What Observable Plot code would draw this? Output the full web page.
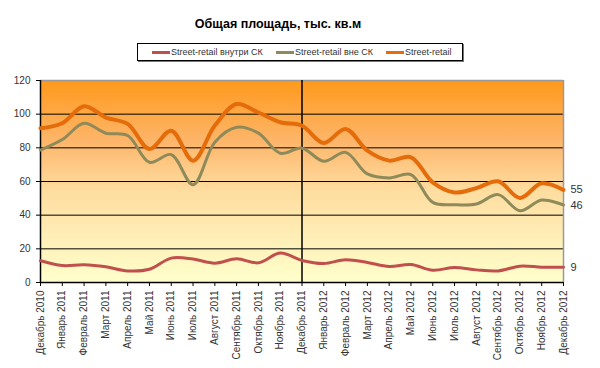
<!DOCTYPE html>
<html>
<head>
<meta charset="utf-8">
<script src="https://cdn.jsdelivr.net/npm/d3@7"></script>
<script src="https://cdn.jsdelivr.net/npm/@observablehq/plot@0.6"></script>
<style>
  html, body { margin: 0; padding: 0; background: #fff; }
  #wrap { position: relative; width: 600px; height: 368px; font-family: "Liberation Sans", Arial, sans-serif; }
  #title { position: absolute; left: 0; width: 556px; top: 17px; text-align: center; font-weight: bold; font-size: 12.5px; color: #000; }
  #legend { position: absolute; left: 137px; top: 43px; width: 324px; height: 16px; border: 1px solid #000; box-shadow: 1px 1px 0 #777; font-size: 9px; color: #333; }
  .sw { position: absolute; top: 7px; width: 18px; height: 3px; }
  .lt { position: absolute; top: 3px; white-space: nowrap; }
  #chart { position: absolute; left: 0; top: 0; }
</style>
</head>
<body>
<div id="wrap">
  <div id="chart"></div>
  <div id="title">Общая площадь, тыс. кв.м</div>
  <div id="legend"></div>
</div>
<script>
const months = ["Декабрь 2010","Январь 2011","Февраль 2011","Март 2011","Апрель 2011","Май 2011","Июнь 2011","Июль 2011","Август 2011","Сентябрь 2011","Октябрь 2011","Ноябрь 2011","Декабрь 2011","Январь 2012","Февраль 2012","Март 2012","Апрель 2012","Май 2012","Июнь 2012","Июль 2012","Август 2012","Сентябрь 2012","Октябрь 2012","Ноябрь 2012","Декабрь 2012"];
const seriesNames = ["Street-retail внутри СК", "Street-retail вне СК", "Street-retail"];
const seriesColors = ["#C0504D", "#8F8A5A", "#E46C0A"];
const insideSC = [12.9,10.1,10.5,9.3,6.9,7.9,14.5,13.9,11.5,14.1,11.7,17.5,13.1,11.3,13.5,11.9,9.5,10.7,7.3,8.9,7.5,6.9,9.7,9.1,9];
const outsideSC = [78.7,84.9,94.6,88.7,87.3,71.4,76,58.1,83.3,92.2,88.7,76.8,79.8,72,77.3,64.5,62.1,64.1,47.6,46.2,46.6,52.2,42.6,49,46];
const streetRetail = [91.6,94.6,104.7,98,94.2,79.3,90.2,72.4,93.2,106,101,95.2,93.1,82.9,91.2,78.3,72.4,74.4,59.5,53.5,56.1,60.1,50.2,58.9,55];
const yTicks = [0,20,40,60,80,100,120];
const endLabels = ["9","46","55"];

const valuesList = [insideSC, outsideSC, streetRetail];
const rows = [];
valuesList.forEach((vals, s) => vals.forEach((v, i) => rows.push({i, v, s: seriesNames[s]})));
const ends = valuesList.map((vals, s) => ({i: vals.length - 1, v: vals[vals.length - 1], label: endLabels[s]}));

const widths = [3, 3, 4];
const lineMarks = [0, 1, 2].map(s =>
  Plot.line(rows.filter(r => r.s === seriesNames[s]), {x: "i", y: "v", stroke: seriesColors[s], strokeWidth: widths[s], curve: "catmull-rom"})
);

const chart = Plot.plot({
  width: 600,
  height: 368,
  marginTop: 80,
  marginBottom: 86,
  marginLeft: 40,
  marginRight: 37,
  style: {fontFamily: "'Liberation Sans', Arial, sans-serif", background: "transparent"},
  x: {domain: [0, months.length - 1]},
  y: {domain: [0, 120]},
  marks: [
    Plot.rect([{x1: 0, x2: months.length - 1, y1: 0, y2: 120}], {x1: "x1", x2: "x2", y1: "y1", y2: "y2", fill: "url(#bgGrad)"}),
    Plot.ruleY([20, 40, 60, 80, 100], {stroke: "#000", strokeWidth: 1}),
    Plot.ruleY([120], {stroke: "#999", strokeWidth: 1.5}),
    Plot.ruleX([months.length - 1], {stroke: "#999", strokeWidth: 1.5}),
    Plot.ruleX([12], {stroke: "#000", strokeWidth: 1.5}),
    Plot.ruleX([0], {stroke: "#000", strokeWidth: 1.5}),
    Plot.ruleY([0], {stroke: "#000", strokeWidth: 1.5}),
    Plot.axisY({ticks: yTicks, tickSize: 4, tickPadding: 6, fontSize: 10, color: "#333", stroke: "#000", label: null}),
    Plot.axisX({ticks: d3.range(months.length), tickFormat: i => months[i], tickRotate: -90, tickSize: 4, tickPadding: 4, fontSize: 10, color: "#333", label: null}),
    ...lineMarks,
    Plot.text(ends, {x: "i", y: "v", text: "label", dx: 7, textAnchor: "start", fill: "#333", fontSize: 11})
  ]
});

// gradient definition
const svg = d3.select(chart);
const defs = svg.insert("defs", ":first-child");
const g = defs.append("linearGradient").attr("id", "bgGrad").attr("x1", 0).attr("y1", 0).attr("x2", 0).attr("y2", 1);
[[0, "#FF991A"], [0.3, "#FDB56A"], [0.55, "#FEDDA0"], [1, "#FFFFCC"]].forEach(([o, c]) =>
  g.append("stop").attr("offset", o).attr("stop-color", c));
svg.selectAll("[aria-label='y-axis tick'] path, [aria-label='x-axis tick'] path").attr("stroke", "#000");
document.getElementById("chart").appendChild(chart);

// legend
const legend = document.getElementById("legend");
const swLefts = [14, 138, 248];
seriesNames.forEach((n, s) => {
  const sw = document.createElement("div");
  sw.className = "sw";
  sw.style.left = swLefts[s] + "px";
  sw.style.background = seriesColors[s];
  legend.appendChild(sw);
  const t = document.createElement("div");
  t.className = "lt";
  t.style.left = (swLefts[s] + 19) + "px";
  t.textContent = n;
  legend.appendChild(t);
});
</script>
</body>
</html>
